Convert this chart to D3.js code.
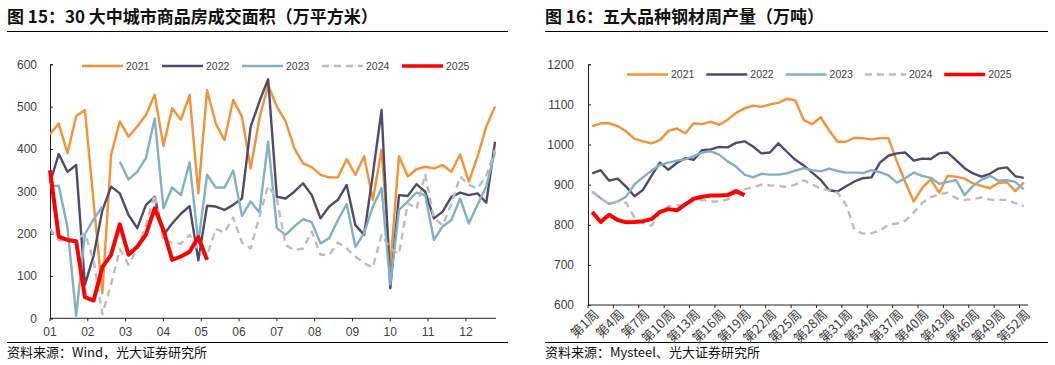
<!DOCTYPE html>
<html><head><meta charset="utf-8">
<script src="https://cdn.jsdelivr.net/npm/d3@7"></script>
<style>body{margin:0;background:#fff} svg{display:block}</style>
</head><body>
<svg id="c" width="1055" height="365"></svg>
<script>
// ---------- data ----------
const years = ["2021", "2022", "2023", "2024", "2025"];
const colors = ["#F39237", "#4F4A6E", "#82B0C6", "#BDBDBD", "#FF0000"];

// Chart 15: 30 large/medium city housing sales area (10k sqm), weekly
const monthLabels = ["01","02","03","04","05","06","07","08","09","10","11","12"];
const area2021 = [435,460,390,478,492,275,59,386,465,429,453,480,528,407,496,469,528,295,539,460,421,516,476,354,472,551,500,465,402,366,357,339,333,333,376,339,383,280,398,122,383,335,352,358,354,362,346,387,323,382,453,500];
const area2022 = [320,388,346,362,79,148,255,311,295,244,213,268,287,197,224,247,265,137,266,264,256,268,283,453,512,565,287,283,299,319,291,236,264,280,315,220,197,340,492,71,291,289,317,299,236,252,287,297,291,295,273,417];
const area2023 = [312,313,215,6,199,234,264,null,370,328,346,379,472,260,309,291,368,178,339,309,309,349,242,276,250,417,213,197,217,234,227,177,189,232,270,169,201,264,307,80,256,276,297,291,185,217,232,283,224,268,311,394];
const area2024 = [211,185,182,185,201,136,10,80,163,127,163,222,293,181,179,176,197,160,148,211,203,238,179,165,240,313,283,173,161,165,205,150,150,179,165,146,130,120,197,165,152,272,258,341,236,220,270,335,315,307,337,398];
const area2025 = [350,193,185,182,50,42,121,150,222,150,169,198,260,209,138,146,157,192,138];

// Chart 16: weekly output of five major steel products (10k t)
const weekLabels = d3.range(1, 53).map(d => "第" + d + "周");
const steel2021 = [1045,1053,1053,1046,1033,1014,1008,1003,1011,1034,1040,1028,1053,1051,1057,1049,1062,1079,1090,1097,1094,1100,1104,1114,1110,1061,1051,1068,1035,1007,1007,1017,1016,1013,1016,1016,958,906,858,892,913,880,922,920,915,903,897,891,904,906,884,905];
const steel2022 = [928,936,910,915,895,871,887,922,955,937,954,966,962,986,988,994,993,1004,1008,995,978,980,1003,982,962,948,930,912,886,883,896,908,916,918,955,972,978,980,960,965,964,978,980,961,941,928,920,927,940,943,921,917];
const steel2023 = [883,866,852,858,870,901,918,935,949,955,960,963,971,980,983,975,958,945,925,918,927,925,925,928,935,941,936,933,940,934,930,930,929,936,931,923,905,916,930,922,917,902,907,911,874,897,912,922,910,911,907,888];
const steel2024 = [881,866,852,858,855,818,804,798,831,846,848,849,858,862,858,858,863,879,888,894,900,898,897,894,900,911,900,890,885,880,850,787,778,779,785,800,803,810,830,855,868,876,880,866,862,864,868,863,862,862,854,846];
const steel2025 = [832,807,825,812,806,807,809,814,832,839,836,851,865,870,873,873,874,884,874];

const leftTicks = [0,100,200,300,400,500,600];
const rightTicks = [600,700,800,900,1000,1100,1200];

// ---------- drawing ----------
const svg = d3.select("#c");
const FONT = "'Liberation Sans', Arial, sans-serif";
const CJK = "'Noto Sans CJK SC', 'Noto Sans', sans-serif";
const widths = [2.4, 2.4, 2.4, 2.4, 4];

function frame(x0, x1, title, source) {
  svg.append("text").attr("x", x0).attr("y", 23).attr("font-family", CJK)
    .attr("font-weight", "bold").attr("font-size", 17).attr("fill", "#111").text(title);
  svg.append("line").attr("x1", x0).attr("x2", x1).attr("y1", 31.5).attr("y2", 31.5)
    .attr("stroke", "#000").attr("stroke-width", 1);
  svg.append("line").attr("x1", x0).attr("x2", x1).attr("y1", 342.5).attr("y2", 342.5)
    .attr("stroke", "#000").attr("stroke-width", 1);
  svg.append("text").attr("x", x0).attr("y", 357).attr("font-family", CJK)
    .attr("font-size", 13).attr("fill", "#111").text(source);
}

function legend(g, startX, y, step) {
  years.forEach((yr, i) => {
    const lx = startX + i * step;
    g.append("line").attr("x1", lx).attr("x2", lx + 41).attr("y1", y).attr("y2", y)
      .attr("stroke", colors[i]).attr("stroke-width", i === 4 ? 3.5 : 2.6)
      .attr("stroke-dasharray", i === 3 ? "7,5" : null);
    g.append("text").attr("x", lx + 44).attr("y", y).attr("dy", "0.35em")
      .attr("font-family", FONT).attr("font-size", 10.5).attr("fill", "#444").text(yr);
  });
}

// ---- Chart 15 ----
frame(7, 508, "图 15：30 大中城市商品房成交面积（万平方米）", "资料来源：Wind，光大证券研究所");
{
  const g = svg.append("g");
  const x = d3.scaleLinear().domain([0, 51]).range([50, 495]);
  const y = d3.scaleLinear().domain([0, 600]).range([318.3, 64.3]);
  const ya = g.append("g").attr("transform", "translate(50,0)")
    .call(d3.axisRight(y).tickValues(leftTicks).tickSize(3).tickFormat(""));
  ya.select(".domain").attr("stroke", "#222");
  ya.selectAll(".tick line").attr("stroke", "#222");
  leftTicks.forEach(t => g.append("text").attr("x", 37).attr("y", y(t)).attr("dy", "0.35em")
    .attr("text-anchor", "end").attr("font-family", FONT).attr("font-size", 12).attr("fill", "#404040").text(t));
  g.append("line").attr("x1", 50).attr("x2", 496).attr("y1", y(0)).attr("y2", y(0)).attr("stroke", "#222");
  monthLabels.forEach((m, i) => {
    const px = x(i * 52 / 12);
    g.append("line").attr("x1", px).attr("x2", px).attr("y1", y(0)).attr("y2", y(0) + 3).attr("stroke", "#222");
    g.append("text").attr("x", px).attr("y", 332).attr("dy", "0.35em").attr("text-anchor", "middle")
      .attr("font-family", FONT).attr("font-size", 12).attr("fill", "#404040").text(m);
  });
  const series = [area2021, area2022, area2023, area2024, area2025];
  const line = d3.line().defined(d => d != null).x((d, i) => x(i)).y(d => y(d));
  series.forEach((s, i) => {
    g.append("path").attr("d", line(s)).attr("fill", "none").attr("stroke", colors[i])
      .attr("stroke-width", widths[i]).attr("stroke-linejoin", "round")
      .attr("stroke-dasharray", i === 3 ? "7,5" : null);
  });
  legend(g, 82, 66, 80);
}

// ---- Chart 16 ----
frame(545, 1048, "图 16：五大品种钢材周产量（万吨）", "资料来源：Mysteel、光大证券研究所");
{
  const g = svg.append("g");
  const x = d3.scaleBand().domain(weekLabels).range([588, 1028]).padding(0);
  const y = d3.scaleLinear().domain([600, 1200]).range([305, 64.3]);
  const ya = g.append("g").attr("transform", "translate(588,0)")
    .call(d3.axisRight(y).tickValues(rightTicks).tickSize(3).tickFormat(""));
  ya.select(".domain").attr("stroke", "#222");
  ya.selectAll(".tick line").attr("stroke", "#222");
  rightTicks.forEach(t => g.append("text").attr("x", 574).attr("y", y(t)).attr("dy", "0.35em")
    .attr("text-anchor", "end").attr("font-family", FONT).attr("font-size", 12).attr("fill", "#404040").text(t));
  g.append("line").attr("x1", 588).attr("x2", 1028).attr("y1", y(600)).attr("y2", y(600)).attr("stroke", "#222");
  weekLabels.forEach((w, i) => {
    if (i % 3 !== 0) return;
    const px = x(w);
    g.append("line").attr("x1", px).attr("x2", px).attr("y1", y(600)).attr("y2", y(600) + 3).attr("stroke", "#222");
    const cx = px + x.bandwidth() / 2;
    g.append("text").attr("transform", `translate(${cx + 4},${y(600) + 7}) rotate(-45)`)
      .attr("text-anchor", "end").attr("dy", "0.35em")
      .attr("font-family", CJK).attr("font-size", 13).attr("fill", "#404040").text(w);
  });
  const series = [steel2021, steel2022, steel2023, steel2024, steel2025];
  const line = d3.line().defined(d => d != null)
    .x((d, i) => x(weekLabels[i]) + x.bandwidth() / 2).y(d => y(d));
  series.forEach((s, i) => {
    g.append("path").attr("d", line(s)).attr("fill", "none").attr("stroke", colors[i])
      .attr("stroke-width", widths[i]).attr("stroke-linejoin", "round")
      .attr("stroke-dasharray", i === 3 ? "7,5" : null);
  });
  legend(g, 627, 74.5, 79.3);
}
</script>
</body></html>
